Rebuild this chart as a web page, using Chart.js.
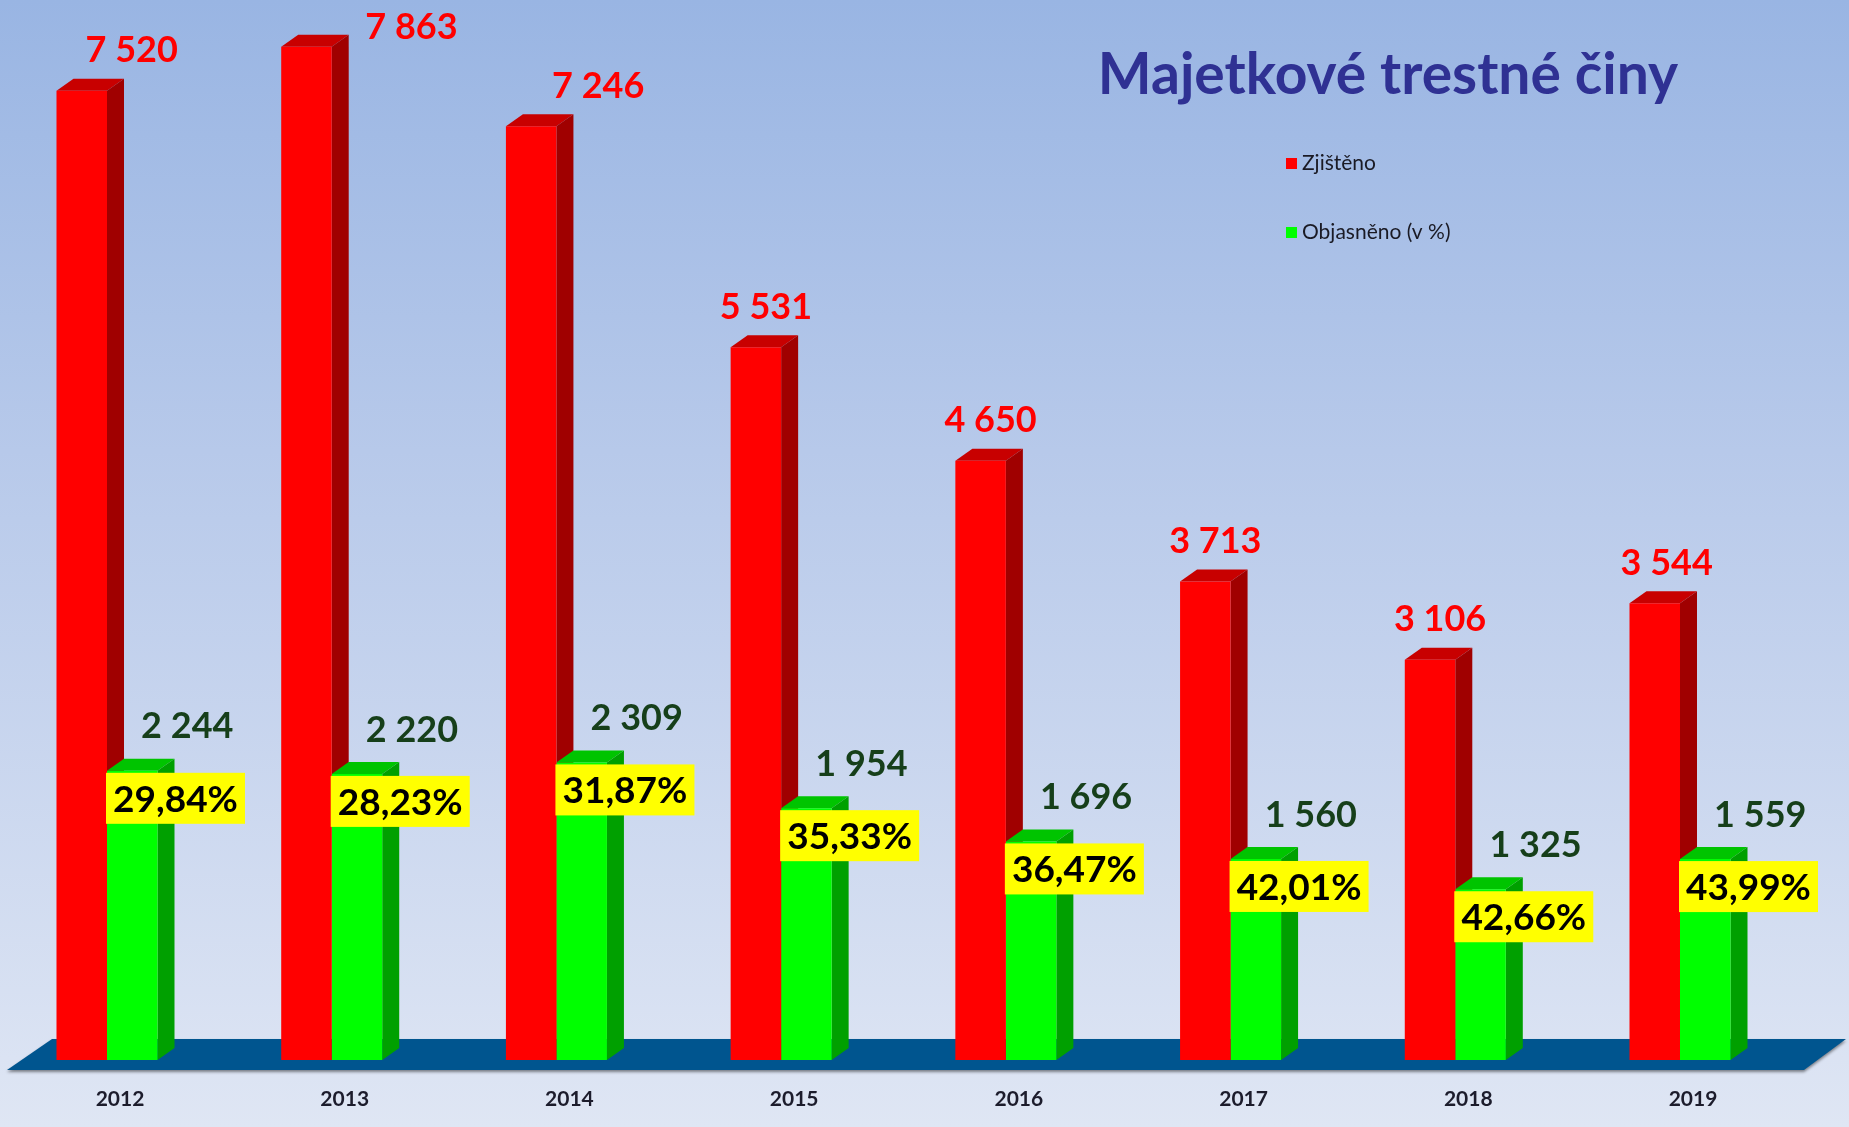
<!DOCTYPE html>
<html>
<head>
<meta charset="utf-8">
<title>Majetkové trestné činy</title>
<script src="https://cdn.jsdelivr.net/npm/chart.js@4.4.1/dist/chart.umd.min.js"></script>
<style>
    html, body { margin: 0; padding: 0; }
    body {
        width: 1849px;
        height: 1127px;
        overflow: hidden;
        background: linear-gradient(to bottom, #99b5e3 0%, #b7c9ea 40%, #dfe6f4 100%);
    }
    #chart_box { position: relative; width: 1849px; height: 1127px; }
</style>
</head>
<body>
<div id="chart_box">
    <canvas id="crime_chart" width="1849" height="1127"></canvas>
</div>
<script>
// data
const years = ['2012', '2013', '2014', '2015', '2016', '2017', '2018', '2019'];
const zjisteno = [7520, 7863, 7246, 5531, 4650, 3713, 3106, 3544];
const objasneno = [2244, 2220, 2309, 1954, 1696, 1560, 1325, 1559];
const objasneno_pct = [29.84, 28.23, 31.87, 35.33, 36.47, 42.01, 42.66, 43.99];

const chart_title = 'Majetkové trestné činy';
const legend_labels = ['Zjištěno', 'Objasněno (v %)'];

const ctx = document.getElementById('crime_chart').getContext('2d');

// colours for the front / side / top of the 3d bars
const red_faces = { front: '#ff0000', side: '#a00000', top: '#c80000' };
const green_faces = { front: '#00ff00', side: '#00a000', top: '#00c400' };

function formatCount(v) {
    return String(v).replace(/\B(?=(\d{3})+(?!\d))/g, ' ');
}

function formatPct(v) {
    return v.toFixed(2).replace('.', ',') + '%';
}

// 3d look: floor, bar tops and sides drawn before the library draws the fronts
const depth_plugin = {
    id: 'depth3d',
    beforeDatasetsDraw(chart, args, opts) {
        const c = chart.ctx;
        const x_scale = chart.scales.x;
        const base = chart.chartArea.bottom;
        const first_x = x_scale.getPixelForValue(0);
        const last_x = x_scale.getPixelForValue(years.length - 1);

        // floor
        c.save();
        c.shadowColor = 'rgba(0,0,0,0.45)';
        c.shadowBlur = 3;
        c.shadowOffsetY = 2;
        c.fillStyle = '#00558f';
        c.beginPath();
        c.moveTo(first_x - 55, base - 21);
        c.lineTo(last_x + 166, base - 21);
        c.lineTo(last_x + 124, base + 10);
        c.lineTo(first_x - 100, base + 10);
        c.closePath();
        c.fill();
        c.restore();

        const faces = [red_faces, green_faces];
        [0, 1].forEach(ds => {
            const meta = chart.getDatasetMeta(ds);
            meta.data.forEach(bar => {
                const p = bar.getProps(['x', 'y', 'base', 'width'], true);
                const left = p.x - p.width / 2;
                const right = p.x + p.width / 2;
                const dx = opts.dx, dy = opts.dy;
                c.save();
                // top
                c.fillStyle = faces[ds].top;
                c.beginPath();
                c.moveTo(left, p.y);
                c.lineTo(left + dx, p.y - dy);
                c.lineTo(right + dx, p.y - dy);
                c.lineTo(right, p.y);
                c.closePath();
                c.fill();
                // side
                c.fillStyle = faces[ds].side;
                c.beginPath();
                c.moveTo(right, p.y);
                c.lineTo(right + dx, p.y - dy);
                c.lineTo(right + dx, p.base - dy);
                c.lineTo(right, p.base);
                c.closePath();
                c.fill();
                c.restore();
            });
        });
    },
    afterDatasetsDraw(chart, args, opts) {
        const c = chart.ctx;
        const red_meta = chart.getDatasetMeta(0);
        const green_meta = chart.getDatasetMeta(1);
        c.save();
        c.textAlign = 'center';
        c.textBaseline = 'middle';

        red_meta.data.forEach((bar, i) => {
            const p = bar.getProps(['x', 'y'], true);
            c.font = 'bold 36px Lato';
            c.fillStyle = '#ff0000';
            c.fillText(formatCount(zjisteno[i]), p.x + opts.red_dx[i], Math.max(p.y - 40, 27));
        });

        green_meta.data.forEach((bar, i) => {
            const p = bar.getProps(['x', 'y', 'width'], true);
            c.font = 'bold 36px Lato';
            c.fillStyle = '#163f1a';
            c.fillText(formatCount(objasneno[i]), p.x + 55, p.y - 44);

            // yellow percentage box
            const bx = p.x - p.width / 2 - 1;
            const by = p.y + 2;
            c.fillStyle = '#ffff00';
            c.fillRect(bx, by, 139, 51);
            c.font = 'bold 37px Lato';
            c.fillStyle = '#000000';
            c.fillText(formatPct(objasneno_pct[i]), bx + 69.5, by + 27);
        });

        // title
        c.font = 'bold 57px Lato';
        c.fillStyle = '#2f3193';
        c.textBaseline = 'alphabetic';
        c.fillText(chart_title, 1388, 94);

        // legend
        const colors = [red_faces.front, green_faces.front];
        const rows = [163.5, 232.5];
        c.font = '21px Lato';
        c.textAlign = 'left';
        c.textBaseline = 'middle';
        legend_labels.forEach((label, i) => {
            c.fillStyle = colors[i];
            c.fillRect(1286, rows[i] - 5.5, 11, 11);
            c.fillStyle = '#1a1a24';
            c.fillText(label, 1302, rows[i]);
        });
        c.restore();
    }
};

const my_chart = new Chart(ctx, {
    type: 'bar',
    data: {
        labels: years,
        datasets: [{
            label: legend_labels[0],
            data: zjisteno,
            backgroundColor: red_faces.front,
            borderWidth: 0,
            clip: false
        }, {
            label: legend_labels[1],
            data: objasneno,
            backgroundColor: green_faces.front,
            borderWidth: 0,
            clip: false
        }]
    },
    options: {
        responsive: false,
        animation: false,
        devicePixelRatio: 1,
        categoryPercentage: 0.4495,
        barPercentage: 1,
        layout: {
            padding: { top: 29, left: 107, right: 169, bottom: 0 }
        },
        scales: {
            x: {
                offset: false,
                grid: { display: false, drawTicks: false },
                border: { display: false },
                ticks: {
                    color: '#1c1c2c',
                    font: { family: 'Lato', weight: 'bold', size: 21 },
                    padding: 27,
                    labelOffset: 13,
                    maxRotation: 0
                },
                afterFit: scale => { scale.height = 67; }
            },
            y: {
                display: false,
                min: 0,
                max: 8000
            }
        },
        plugins: {
            legend: { display: false },
            title: { display: false },
            tooltip: { enabled: false },
            depth3d: {
                dx: 17,
                dy: 12,
                red_dx: [50, 105, 67, 10, 10, 10, 10, 12]
            }
        }
    },
    plugins: [depth_plugin]
});
</script>
</body>
</html>
